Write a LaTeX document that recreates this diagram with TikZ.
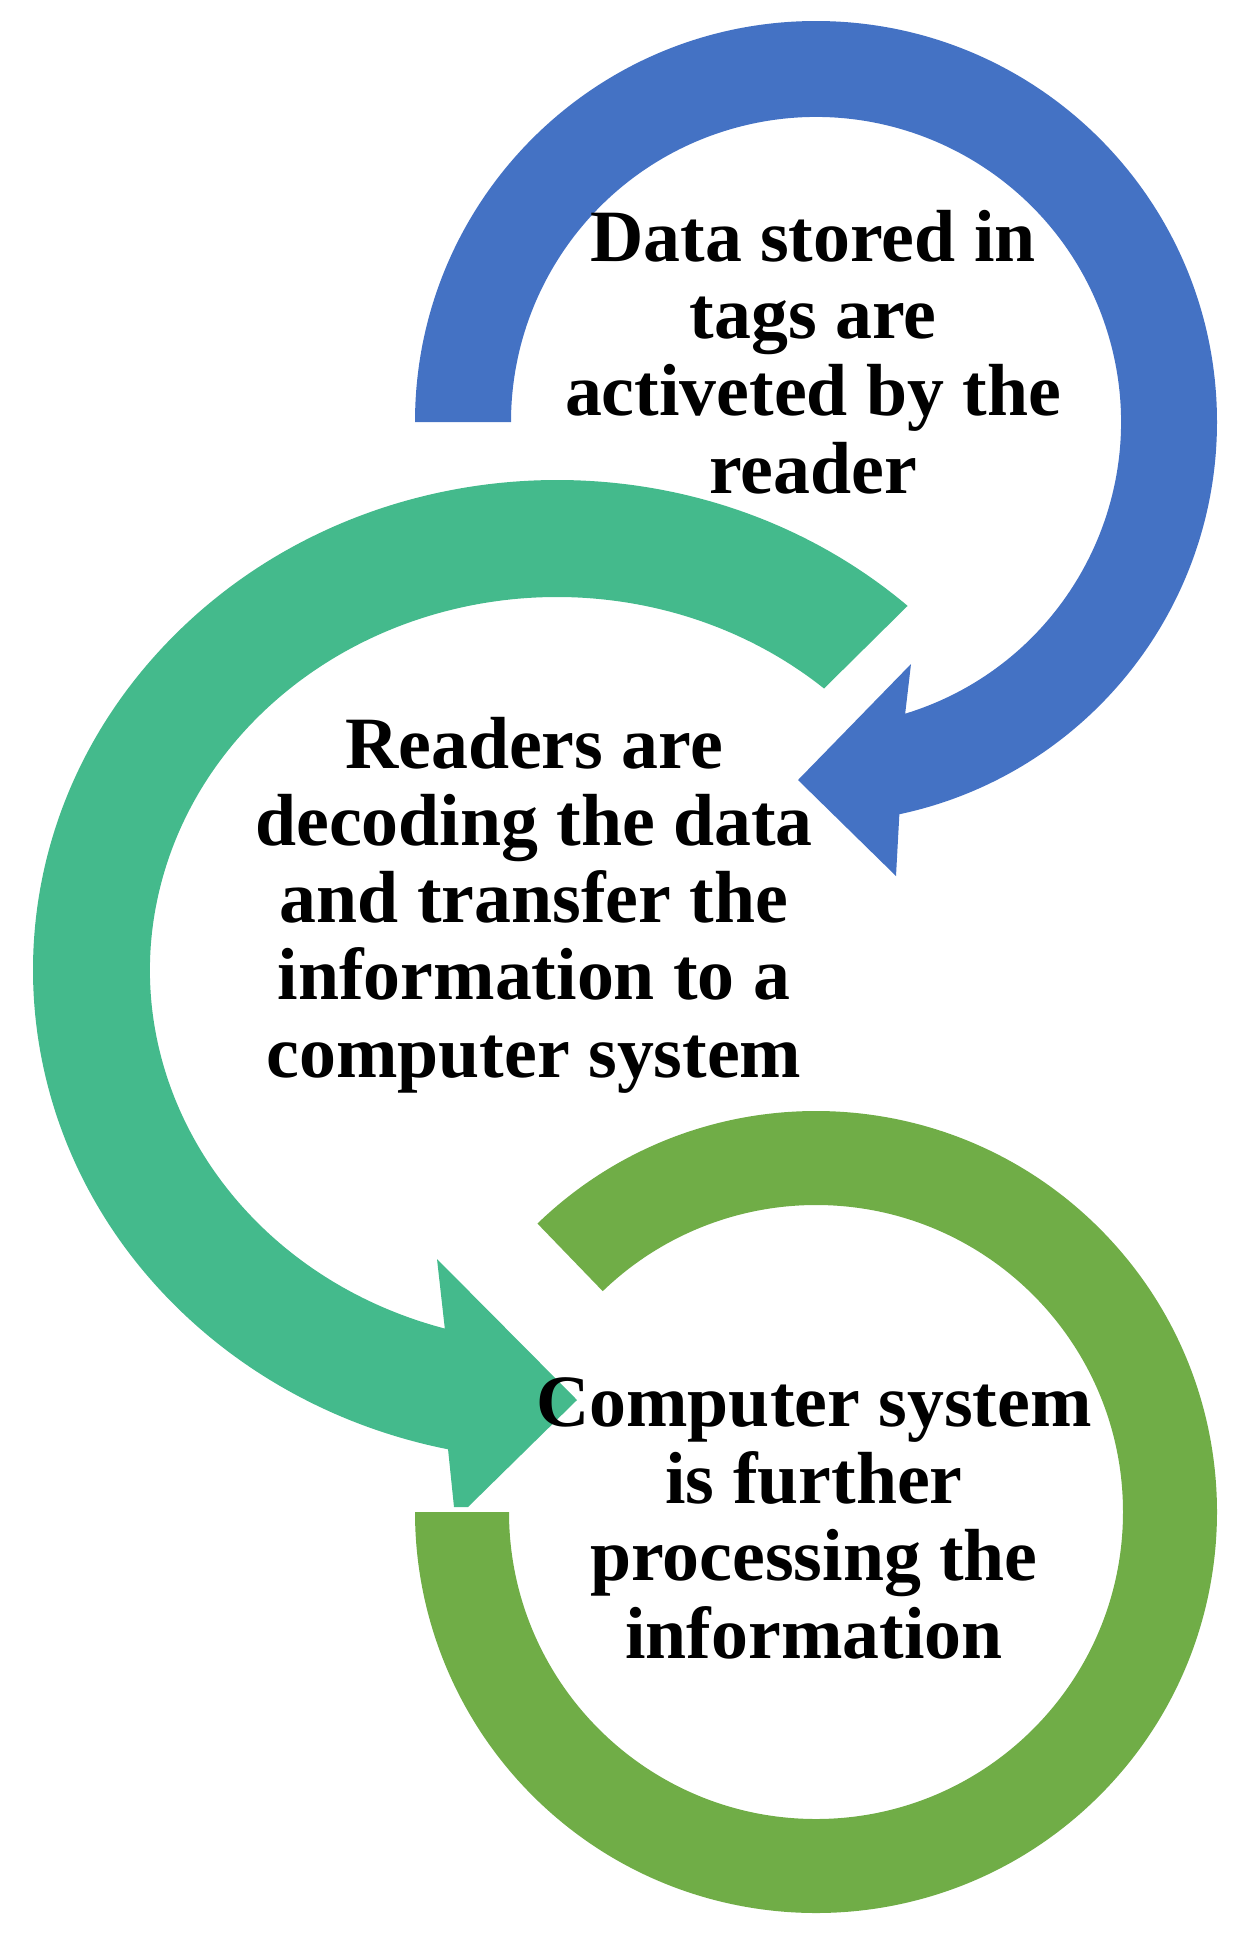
\documentclass[tikz,border=0pt]{standalone}
\usepackage{fontspec}
\setmainfont{Liberation Serif}
\usepackage{xcolor}
\usetikzlibrary{calc}
\definecolor{tagblue}{RGB}{68, 114, 196}
\definecolor{readteal}{RGB}{68, 186, 140}
\definecolor{compgreen}{RGB}{112, 173, 71}
\tikzstyle{steptext} = [align=center, inner sep=0pt, text=black, font=\fontsize{42}{44}\selectfont\bfseries]
\tikzstyle{tagarrow} = [fill=tagblue, draw=none]
\tikzstyle{readarrow} = [fill=readteal, draw=none]
\tikzstyle{comparc} = [fill=compgreen, draw=none]

\begin{document}
\begin{tikzpicture}[x=0.02cm, y=0.02cm]
      \useasboundingbox (0,0) rectangle (1248,-1935);
      \coordinate (tagc) at (816,-422);
      \coordinate (readc) at (557,-970);
      \coordinate (compc) at (816,-1512);

      % blue arrow, top ring
      \fill[tagarrow] ($(tagc)+(180:401)$) arc[start angle=180, end angle=-78, radius=401]
        -- (896,-876) -- (798,-780) -- (911,-664)
        -- ($(tagc)+(-73:305)$) arc[start angle=-73, end angle=180, radius=305] -- cycle;

      % teal arrow, middle ring
      \fill[readarrow] ($(readc)+(48:524 and 490)$) arc[start angle=48, end angle=258, x radius=524, y radius=490]
        -- (454,-1507) -- (468,-1507) -- (577,-1400) -- (437,-1259)
        -- ($(readc)+(254:407 and 373)$) arc[start angle=254, end angle=49, x radius=407, y radius=373] -- cycle;

      % green ring, bottom
      \fill[comparc] ($(compc)+(134:401)$) arc[start angle=134, end angle=-180, radius=401]
        -- ($(compc)+(180:307)$) arc[start angle=180, end angle=494, radius=307] -- cycle;

      \node[steptext] (tagtext) at (813,-352) {Data stored in\\tags are\\activeted by the\\reader};
      \node[steptext] (readtext) at (534,-905) {Readers are\\decoding the data\\and transfer the\\information to a\\computer system};
      \node[steptext] (comptext) at (814,-1518) {Computer system\\is further\\processing the\\information};
    \end{tikzpicture}
\end{document}
